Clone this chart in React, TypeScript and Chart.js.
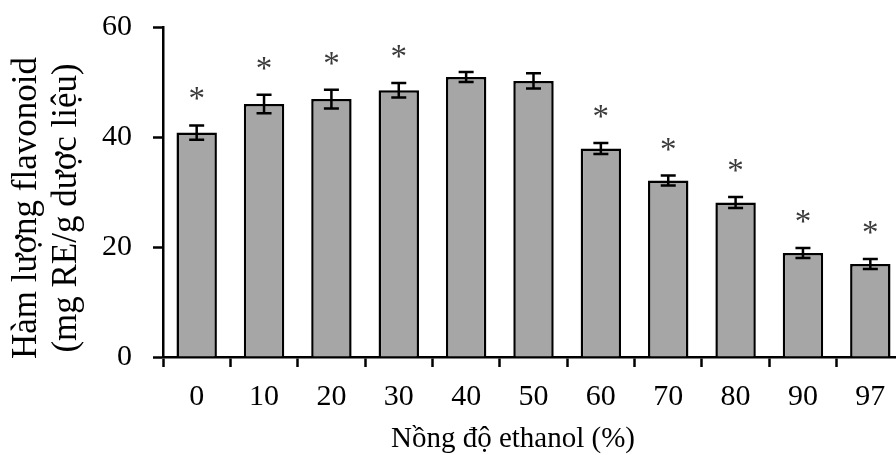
import React, { useEffect, useRef } from "react";
import { Chart, registerables } from "chart.js";

Chart.register(...registerables);

const categories = ["0", "10", "20", "30", "40", "50", "60", "70", "80", "90", "97"];
const flavonoid = [40.8, 46.0, 46.9, 48.5, 50.9, 50.2, 37.9, 32.1, 28.1, 18.9, 16.9];
const errors = [1.3, 1.7, 1.7, 1.3, 0.9, 1.4, 1.0, 0.9, 1.0, 0.9, 0.9];
const significant = [true, true, true, true, false, false, true, true, true, true, true];
const yTitleLines = ["Hàm lượng flavonoid", "(mg RE/g dược liệu)"];
const xTitle = "Nồng độ ethanol (%)";

const SERIF = "'Liberation Serif', 'Times New Roman', serif";

const overlayPlugin = {
  id: "overlay",
  afterDatasetsDraw(chart: any) {
    const { ctx } = chart;
    const meta = chart.getDatasetMeta(0);
    const yScale = chart.scales.y;
    ctx.save();
    meta.data.forEach((bar: any, i: number) => {
      const x = bar.x;
      const v = flavonoid[i];
      const e = errors[i];
      const yHi = yScale.getPixelForValue(v + e);
      const yLo = yScale.getPixelForValue(v - e);
      ctx.strokeStyle = "#000";
      ctx.lineWidth = 2.5;
      ctx.beginPath();
      ctx.moveTo(x, yHi);
      ctx.lineTo(x, yLo);
      ctx.moveTo(x - 7.5, yHi);
      ctx.lineTo(x + 7.5, yHi);
      ctx.moveTo(x - 7.5, yLo);
      ctx.lineTo(x + 7.5, yLo);
      ctx.stroke();
      if (significant[i]) {
        ctx.fillStyle = "#3a3a3a";
        ctx.font = `33px ${SERIF}`;
        ctx.textAlign = "center";
        ctx.textBaseline = "alphabetic";
        ctx.fillText("*", x, yHi - 33 + 17);
      }
    });
    ctx.restore();
  },
  afterDraw(chart: any) {
    const { ctx } = chart;
    ctx.save();
    ctx.fillStyle = "#000";
    ctx.textAlign = "center";
    ctx.textBaseline = "alphabetic";
    ctx.font = `29px ${SERIF}`;
    ctx.fillText(xTitle, 513, 447);
    ctx.font = `35px ${SERIF}`;
    const baselines = [36, 76];
    yTitleLines.forEach((line, i) => {
      ctx.save();
      ctx.translate(baselines[i], 208);
      ctx.rotate(-Math.PI / 2);
      ctx.fillText(line, 0, 0);
      ctx.restore();
    });
    ctx.restore();
  },
};

export default function App() {
  const canvasRef = useRef<HTMLCanvasElement | null>(null);

  useEffect(() => {
    if (!canvasRef.current) return;
    const chart = new Chart(canvasRef.current, {
      type: "bar",
      data: {
        labels: categories,
        datasets: [
          {
            data: flavonoid,
            backgroundColor: "#a6a6a6",
            borderColor: "#000",
            borderWidth: 2.5,
            barPercentage: 0.6,
            categoryPercentage: 1,
          },
        ],
      },
      options: {
        animation: false,
        responsive: true,
        maintainAspectRatio: false,
        layout: { padding: { top: 27, left: 0, right: 0, bottom: 0 } },
        plugins: {
          legend: { display: false },
          tooltip: { enabled: false },
        },
        scales: {
          x: {
            offset: true,
            grid: {
              offset: true,
              drawOnChartArea: false,
              drawTicks: true,
              tickLength: 10,
              tickWidth: 2.5,
              tickColor: "#000",
            },
            border: { display: true, color: "#000", width: 2.5 },
            ticks: {
              color: "#000",
              font: { family: SERIF, size: 30 },
              padding: 12,
              maxRotation: 0,
              autoSkip: false,
            },
            afterFit(scale: any) {
              scale.height = 98;
              scale.paddingLeft = 0;
              scale.paddingRight = 0;
            },
          },
          y: {
            min: 0,
            max: 60,
            grid: {
              drawOnChartArea: false,
              drawTicks: true,
              tickLength: 10,
              tickWidth: 2.5,
              tickColor: "#000",
            },
            border: { display: true, color: "#000", width: 2.5 },
            ticks: {
              stepSize: 20,
              color: "#000",
              font: { family: SERIF, size: 30 },
              padding: 21,
            },
            afterFit(scale: any) {
              scale.width = 163;
              scale.paddingTop = 0;
              scale.paddingBottom = 0;
            },
          },
        },
      },
      plugins: [overlayPlugin],
    });
    return () => chart.destroy();
  }, []);

  return (
    <div
      style={{
        position: "absolute",
        left: 0,
        top: 0,
        width: 896,
        height: 455,
        overflow: "hidden",
        background: "#fff",
      }}
    >
      <div style={{ position: "relative", width: 904, height: 455 }}>
        <canvas ref={canvasRef} />
      </div>
    </div>
  );
}
